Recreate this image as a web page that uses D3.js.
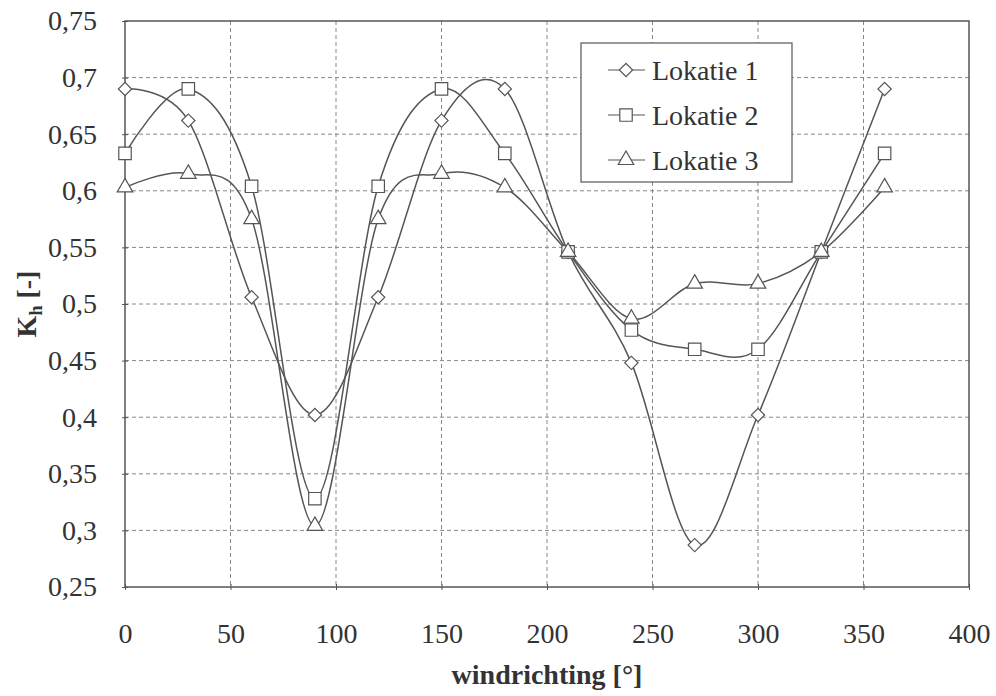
<!DOCTYPE html>
<html>
<head>
<meta charset="utf-8">
<script src="https://cdn.jsdelivr.net/npm/d3@7"></script>
<style>
body { margin: 0; background: #fff; }
svg text { font-family: "Liberation Serif", "Times New Roman", Times, "DejaVu Serif", serif; fill: #333; }
</style>
</head>
<body>
<svg width="996" height="696"></svg>
<script>
var angles = [0, 30, 60, 90, 120, 150, 180, 210, 240, 270, 300, 330, 360];
var lokatie1 = [0.69, 0.662, 0.506, 0.402, 0.506, 0.662, 0.69, 0.546, 0.448, 0.287, 0.402, 0.546, 0.69];
var lokatie2 = [0.633, 0.69, 0.604, 0.328, 0.604, 0.69, 0.633, 0.546, 0.477, 0.46, 0.46, 0.546, 0.633];
var lokatie3 = [0.603, 0.615, 0.575, 0.304, 0.575, 0.615, 0.603, 0.546, 0.487, 0.518, 0.518, 0.546, 0.603];
var seriesNames = ["Lokatie 1", "Lokatie 2", "Lokatie 3"];
var xTicks = [0, 50, 100, 150, 200, 250, 300, 350, 400];
var yTicks = [0.25, 0.3, 0.35, 0.4, 0.45, 0.5, 0.55, 0.6, 0.65, 0.7, 0.75];

var pLeft = 125, pRight = 969, pTop = 21, pBottom = 587;
var ink = "#555";
var serif = "'Liberation Serif', 'Times New Roman', Times, 'DejaVu Serif', serif";

var svg = d3.select("svg");
var x = d3.scaleLinear().domain([0, 400]).range([pLeft, pRight]);
var y = d3.scaleLinear().domain([0.25, 0.75]).range([pBottom, pTop]);

// grid
svg.append("g").selectAll("line").data(yTicks.slice(1, -1)).join("line")
	.attr("x1", pLeft).attr("x2", pRight)
	.attr("y1", function(d){ return y(d); }).attr("y2", function(d){ return y(d); })
	.attr("stroke", "#888").attr("stroke-dasharray", "4,3").attr("stroke-width", 1);
svg.append("g").selectAll("line").data(xTicks.slice(1, -1)).join("line")
	.attr("y1", pTop).attr("y2", pBottom)
	.attr("x1", function(d){ return x(d); }).attr("x2", function(d){ return x(d); })
	.attr("stroke", "#888").attr("stroke-dasharray", "4,3").attr("stroke-width", 1);

svg.append("rect").attr("x", pLeft).attr("y", pTop)
	.attr("width", pRight - pLeft).attr("height", pBottom - pTop)
	.attr("fill", "none").attr("stroke", ink).attr("stroke-width", 1.5);

// axes
var fmt = function(d){ return String(+d.toFixed(2)).replace(".", ","); };
var yAxis = svg.append("g").attr("transform", "translate(" + pLeft + ",0)")
	.call(d3.axisLeft(y).tickValues(yTicks).tickFormat(fmt).tickSize(6).tickPadding(22));
var xAxis = svg.append("g").attr("transform", "translate(0," + pBottom + ")")
	.call(d3.axisBottom(x).tickValues(xTicks).tickFormat(d3.format("d")).tickSize(6).tickPadding(30));
[xAxis, yAxis].forEach(function(a){
	a.attr("font-family", null).attr("font-size", null);
	a.select(".domain").remove();
	a.selectAll("line").attr("stroke", ink);
	a.selectAll("text").attr("font-size", 28).style("font-family", serif).attr("fill", "#333");
});
yAxis.selectAll(".tick line").attr("transform", "translate(3,0)");
xAxis.selectAll(".tick line").attr("transform", "translate(0,-3)");

svg.append("text").attr("x", 547).attr("y", 684).attr("text-anchor", "middle")
	.style("font-family", serif)
	.attr("font-size", 28).attr("font-weight", "bold").text("windrichting [°]");
var yl = svg.append("text").attr("transform", "translate(36,304) rotate(-90)")
	.style("font-family", serif)
	.attr("text-anchor", "middle").attr("font-size", 28).attr("font-weight", "bold");
yl.append("tspan").text("K");
yl.append("tspan").attr("font-size", 18).attr("dy", 6).text("h");
yl.append("tspan").attr("dy", -6).text(" [-]");

// series
var series = [lokatie1, lokatie2, lokatie3].map(function(vals, i){
	return { name: seriesNames[i], shape: i, pts: angles.map(function(a, j){ return [a, vals[j]]; }) };
});
// diamond = rotated square
var shapes = [d3.symbolSquare, d3.symbolSquare, d3.symbolTriangle];
var sizes = [88, 155, 105];
var rot = [" rotate(45)", "", ""];
var line = d3.line().x(function(d){ return x(d[0]); }).y(function(d){ return y(d[1]); })
	.curve(d3.curveCardinal.tension(0));

series.forEach(function(s){
	svg.append("path").attr("d", line(s.pts)).attr("fill", "none")
		.attr("stroke", ink).attr("stroke-width", 1.5);
});
series.forEach(function(s){
	svg.append("g").selectAll("path").data(s.pts).join("path")
		.attr("d", d3.symbol().type(shapes[s.shape]).size(sizes[s.shape]))
		.attr("transform", function(d){ return "translate(" + x(d[0]) + "," + y(d[1]) + ")" + rot[s.shape]; })
		.attr("fill", "#fff").attr("stroke", ink).attr("stroke-width", 1.2);
});

// legend
var lg = svg.append("g");
lg.append("rect").attr("x", 581).attr("y", 43).attr("width", 211).attr("height", 139)
	.attr("fill", "#fff").attr("stroke", ink).attr("stroke-width", 1.2);
series.forEach(function(s, i){
	var ly = 70 + i * 45;
	lg.append("line").attr("x1", 608).attr("x2", 645).attr("y1", ly).attr("y2", ly)
		.attr("stroke", ink).attr("stroke-width", 1.2);
	lg.append("path").attr("d", d3.symbol().type(shapes[s.shape]).size(sizes[s.shape])())
		.attr("transform", "translate(626," + ly + ")" + rot[s.shape])
		.attr("fill", "#fff").attr("stroke", ink).attr("stroke-width", 1.2);
	lg.append("text").attr("x", 652).attr("y", ly + 10).attr("font-size", 28)
		.style("font-family", serif).text(s.name);
});
</script>
</body>
</html>
